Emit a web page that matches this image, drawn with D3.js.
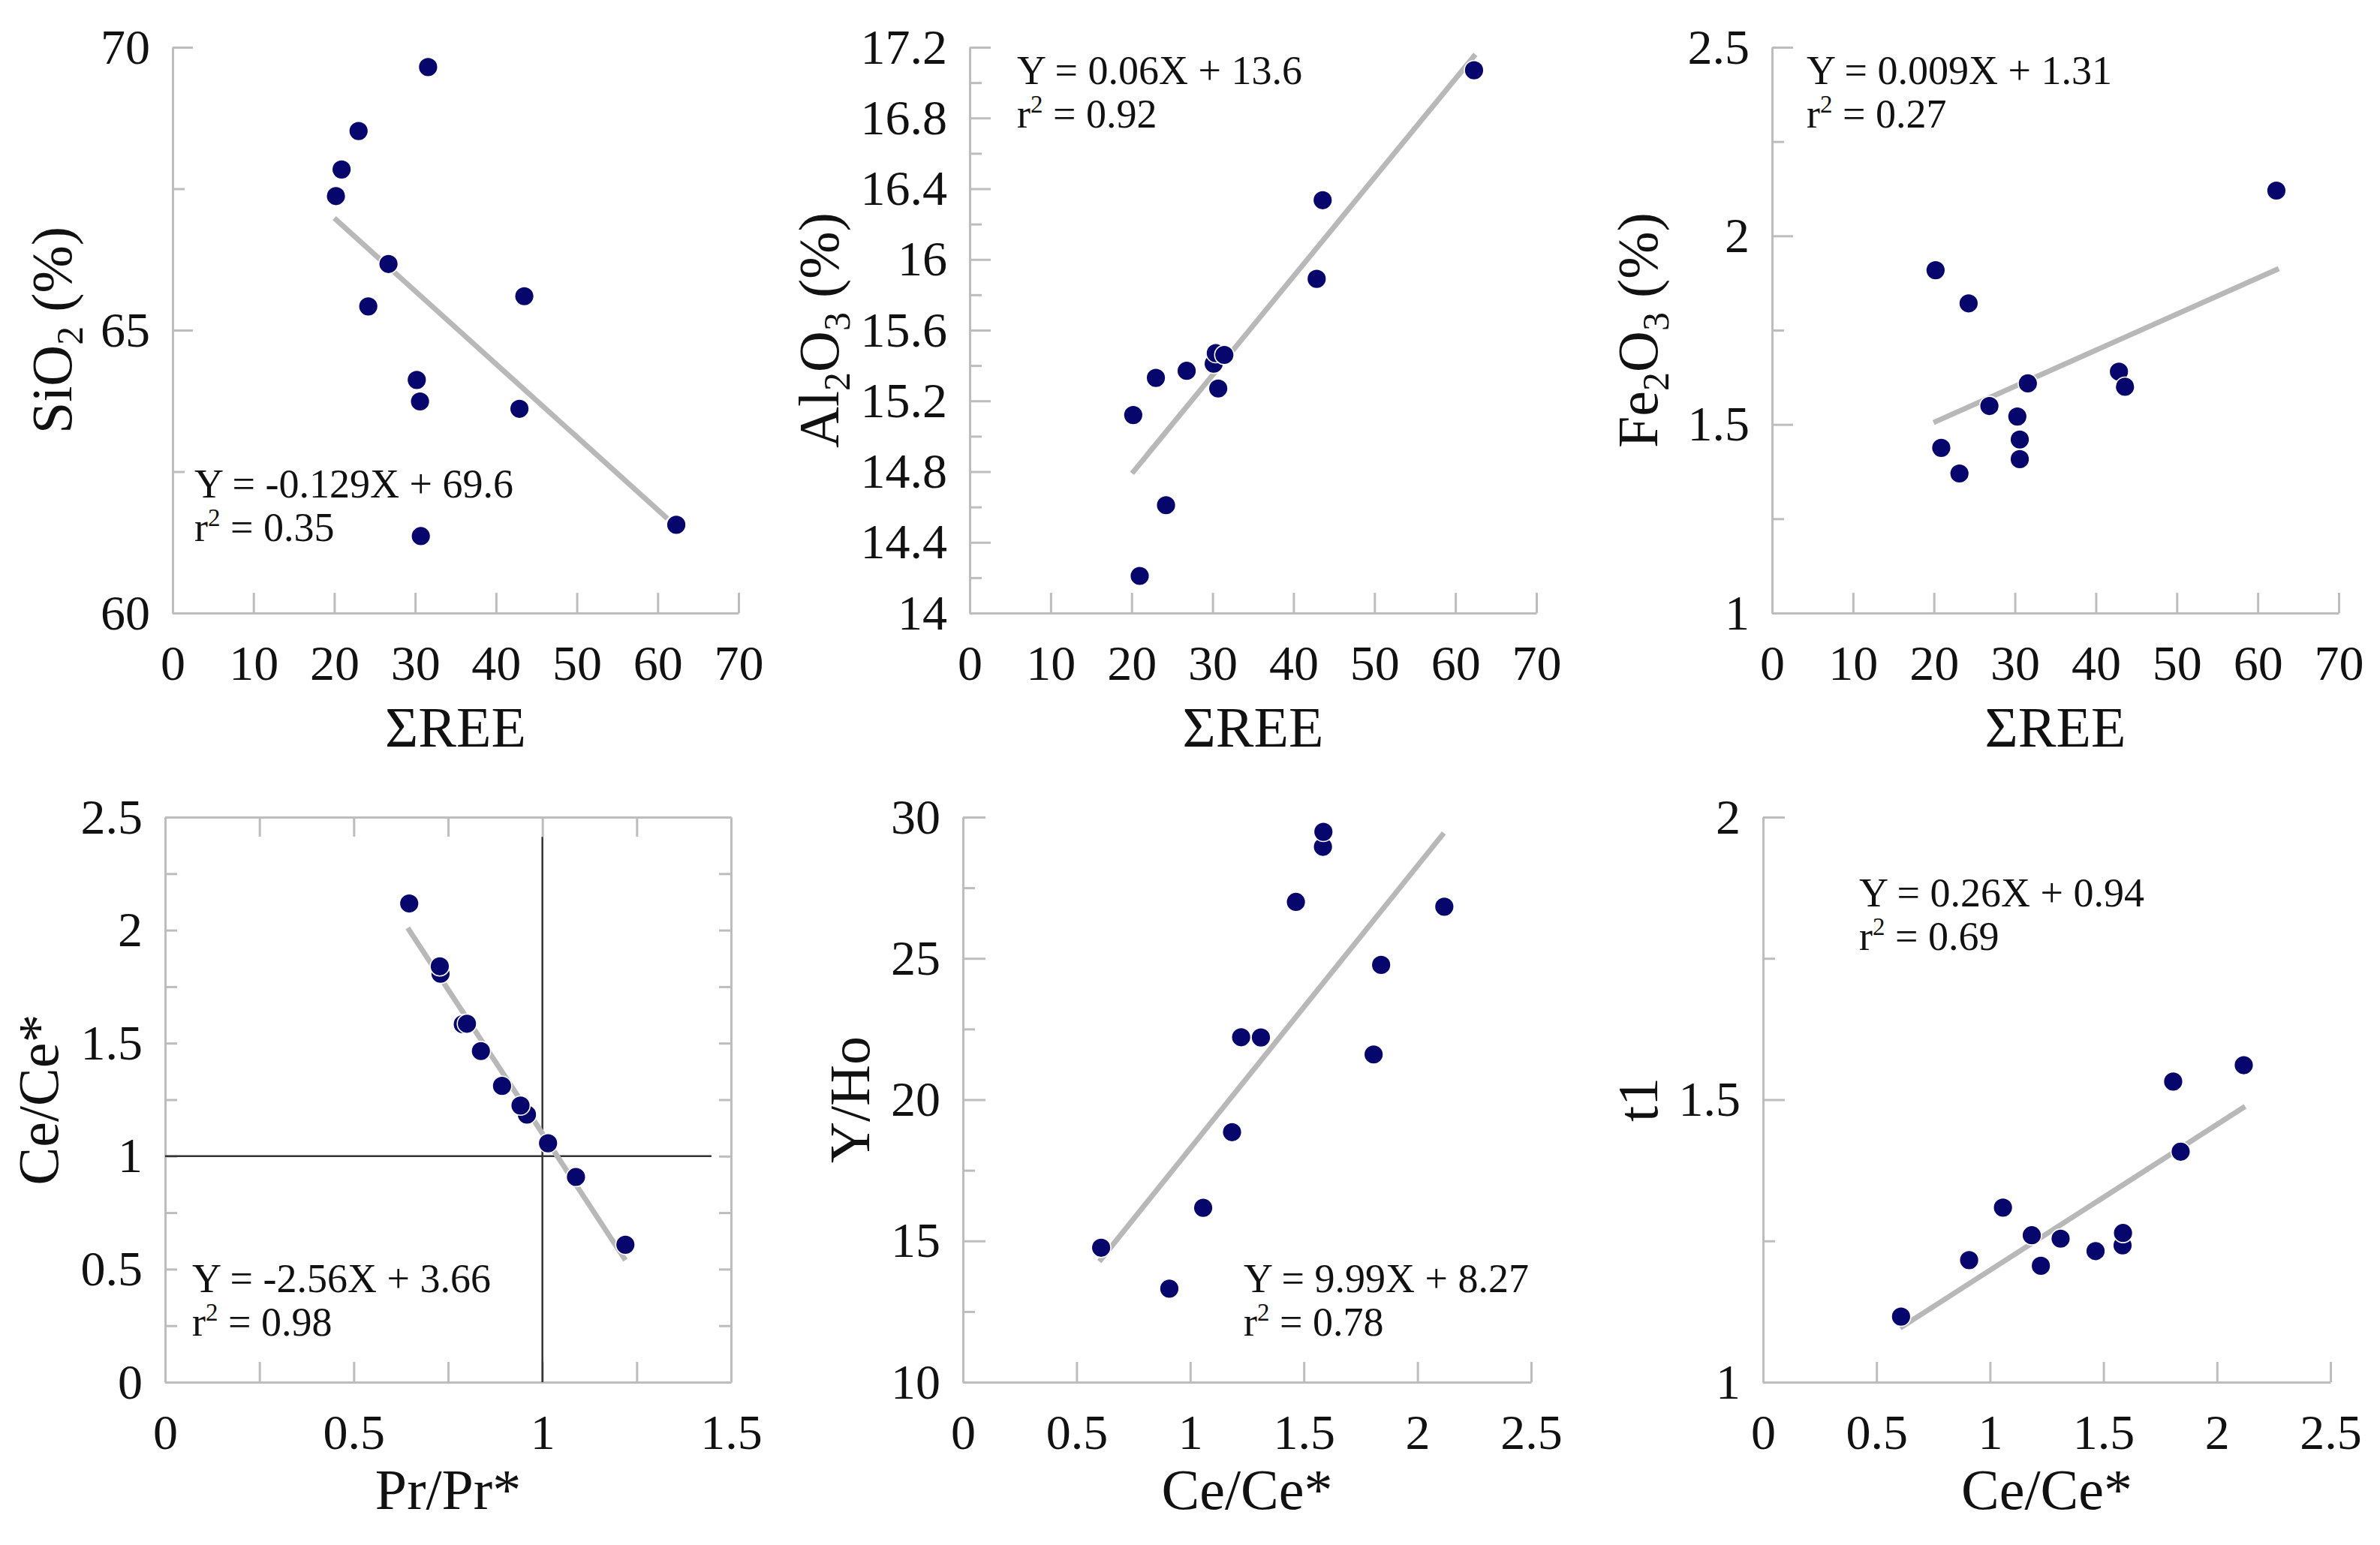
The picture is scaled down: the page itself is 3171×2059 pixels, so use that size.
<!DOCTYPE html>
<html><head><meta charset="utf-8">
<script src="https://cdn.jsdelivr.net/npm/d3@7"></script>
<style>
body{margin:0;background:#fff}
svg{display:block;background:#fff}
</style>
</head><body>
<svg id="c" width="3171" height="2059" font-family="'Liberation Serif', 'Times New Roman', 'DejaVu Serif', serif"></svg>
<script>
// ---------------- DATA ----------------
// Top row: x = ΣREE (same samples in the three panels)
const sumREE = [20.2, 20.9, 23.0, 24.2, 26.7, 30.2, 30.6, 30.7, 31.6, 42.9, 43.5, 62.3];
const sio2   = [67.37, 67.84, 68.52, 65.42, 66.17, 64.12, 63.74, 61.36, 69.65, 63.61, 65.60, 61.56];
const reeAl  = [20.2, 21.0, 23.0, 24.25, 26.8, 30.14, 30.4, 30.7, 31.45, 42.86, 43.6, 62.3];
const al2o3  = [15.12, 14.21, 15.33, 14.61, 15.37, 15.41, 15.47, 15.27, 15.46, 15.89, 16.335, 17.07];
const reeFe  = [20.2, 20.9, 23.15, 24.28, 26.85, 30.3, 30.6, 30.6, 31.6, 42.85, 43.6, 62.3];
const fe2o3  = [1.909, 1.438, 1.370, 1.821, 1.549, 1.521, 1.460, 1.408, 1.609, 1.640, 1.600, 2.120];

// Bottom row
const prPr   = [1.220, 1.089, 1.015, 0.959, 0.942, 0.893, 0.837, 0.789, 0.800, 0.730, 0.728, 0.647];
const ceCe   = [0.608, 0.908, 1.057, 1.184, 1.224, 1.311, 1.465, 1.584, 1.586, 1.807, 1.840, 2.118];
const yHo    = [14.76, 13.31, 16.17, 18.85, 22.21, 22.20, 27.00, 28.95, 29.48, 21.60, 24.77, 26.83];
const t1     = [1.116, 1.216, 1.309, 1.260, 1.206, 1.254, 1.232, 1.242, 1.264, 1.532, 1.408, 1.561];

// Regression lines drawn in the figure (start and end points, data units)
const fitSiO2  = [[20.0, 66.98], [61.2, 61.67]];
const fitAl2O3 = [[20.05, 14.79], [62.47, 17.16]];
const fitFe2O3 = [[19.95, 1.505], [62.6, 1.913]];
const fitCePr  = [[0.643, 2.01], [1.22, 0.54]];
const fitYHo   = [[0.60, 14.27], [2.116, 29.44]];
const fitT1    = [[0.604, 1.096], [2.124, 1.488]];

// Equations
const equations = ["Y = -0.129X + 69.6", "Y = 0.06X + 13.6", "Y = 0.009X + 1.31",
                   "Y = -2.56X + 3.66", "Y = 9.99X + 8.27", "Y = 0.26X + 0.94"];
const r2values  = ["0.35", "0.92", "0.27", "0.98", "0.78", "0.69"];

// Axis titles (segments starting with "_" are subscripts)
const xTitles = ["ΣREE", "ΣREE", "ΣREE", "Pr/Pr*", "Ce/Ce*", "Ce/Ce*"];
const yTitles = [["SiO", "_2", " (%)"], ["Al", "_2", "O", "_3", " (%)"], ["Fe", "_2", "O", "_3", " (%)"],
                 ["Ce/Ce*"], ["Y/Ho"], ["t1"]];

// Ticks
const reeTicks   = [0, 10, 20, 30, 40, 50, 60, 70];
const prTicks    = [0.25, 0.5, 0.75, 1, 1.25, 1.5];
const prLabels   = [0, 0.5, 1, 1.5];
const ceTicks    = [0, 0.5, 1, 1.5, 2, 2.5];
const sio2Major  = [60, 65, 70];
const sio2Minor  = [62.5, 67.5];
const al2o3Major = [14, 14.4, 14.8, 15.2, 15.6, 16, 16.4, 16.8, 17.2];
const al2o3Minor = [14.2, 14.6, 15.0, 15.4, 15.8, 16.2, 16.6, 17.0];
const fe2o3Major = [1, 1.5, 2, 2.5];
const fe2o3Minor = [1.25, 1.75, 2.25];
const ceMajor    = [0, 0.5, 1, 1.5, 2, 2.5];
const ceMinor    = [0.25, 0.75, 1.25, 1.75, 2.25];
const yHoMajor   = [10, 15, 20, 25, 30];
const yHoMinor   = [12.5, 17.5, 22.5, 27.5];
const t1Major    = [1, 1.5, 2];
const t1Minor    = [1.25, 1.75];

// ---------------- LAYOUT ----------------
const panels = [
  {L:230,  R:984,  T:63,   B:817,  xd:[0,70],  yd:[60,70],   xs:sumREE, ys:sio2,  fit:fitSiO2,
   xT:reeTicks, xL:reeTicks, yM:sio2Major, ym:sio2Minor, eq:[259,663], yOff:135, xtb:178, majLen:27},
  {L:1292, R:2047, T:63,   B:817,  xd:[0,70],  yd:[14,17.2], xs:reeAl,  ys:al2o3, fit:fitAl2O3,
   xT:reeTicks, xL:reeTicks, yM:al2o3Major, ym:al2o3Minor, eq:[1355,112], yOff:175, xtb:178, majLen:28},
  {L:2361, R:3116, T:63,   B:817,  xd:[0,70],  yd:[1,2.5],   xs:reeFe,  ys:fe2o3, fit:fitFe2O3,
   xT:reeTicks, xL:reeTicks, yM:fe2o3Major, ym:fe2o3Minor, eq:[2407,112], yOff:153, xtb:178, majLen:28},
  {L:220,  R:974,  T:1089, B:1842, xd:[0,1.5], yd:[0,2.5],   xs:prPr,   ys:ceCe,  fit:fitCePr,
   xT:prTicks, xL:prLabels, yM:ceMajor, ym:ceMinor, eq:[256,1722], yOff:143, xtb:169, majLen:16, box:true},
  {L:1283, R:2040, T:1089, B:1842, xd:[0,2.5], yd:[10,30],   xs:ceCe,   ys:yHo,   fit:fitYHo,
   xT:ceTicks, xL:ceTicks, yM:yHoMajor, ym:yHoMinor, eq:[1657,1722], yOff:125, xtb:169, majLen:30},
  {L:2349, R:3105, T:1089, B:1842, xd:[0,2.5], yd:[1,2],     xs:ceCe,   ys:t1,    fit:fitT1,
   xT:ceTicks, xL:ceTicks, yM:t1Major, ym:t1Minor, eq:[2477,1208], yOff:141, xtb:169, majLen:29}
];

const AXIS = "#bdbdbd", DOT = "#06066c", FIT = "#b8b8b8", INK = "#111";
const FONT = "'Liberation Serif', 'Times New Roman', 'DejaVu Serif', serif";
const TICKFS = 66, TITLEFS = 76, EQFS = 54;
const fmt = v => String(+v.toFixed(2));

const svg = d3.select("#c");

function styleAxis(g) {
  g.attr("font-size", TICKFS).attr("font-family", FONT);
  g.selectAll("path.domain").attr("stroke", AXIS).attr("stroke-width", 3);
  g.selectAll(".tick line").attr("stroke", AXIS).attr("stroke-width", 3);
  g.selectAll(".tick text").attr("font-size", TICKFS).attr("font-family", FONT).attr("fill", INK);
}

panels.forEach((p, i) => {
  const g = svg.append("g");
  const x = d3.scaleLinear().domain(p.xd).range([p.L, p.R]);
  const y = d3.scaleLinear().domain(p.yd).range([p.B, p.T]);

  // y minor ticks
  g.append("g").attr("transform", `translate(${p.L},0)`)
    .call(d3.axisLeft(y).tickValues(p.ym).tickSizeInner(-16).tickSizeOuter(0).tickFormat(""))
    .call(styleAxis);
  // y major ticks with labels
  g.append("g").attr("transform", `translate(${p.L},0)`)
    .call(d3.axisLeft(y).tickValues(p.yM).tickSizeInner(-p.majLen).tickSizeOuter(0).tickPadding(30).tickFormat(fmt))
    .call(styleAxis);
  // x ticks
  g.append("g").attr("transform", `translate(0,${p.B})`)
    .call(d3.axisBottom(x).tickValues(p.xT).tickSizeInner(-27).tickSizeOuter(0).tickFormat(""))
    .call(styleAxis);
  // x labels
  g.append("g").attr("transform", `translate(0,${p.B})`)
    .call(d3.axisBottom(x).tickValues(p.xL).tickSizeInner(0).tickSizeOuter(0).tickPadding(42).tickFormat(fmt))
    .call(styleAxis)
    .call(a => a.select("path.domain").remove());

  if (p.box) {
    g.append("g").attr("transform", `translate(0,${p.T})`)
      .call(d3.axisTop(x).tickValues(p.xT.filter(v => v < p.xd[1])).tickSizeInner(-26).tickSizeOuter(0).tickFormat(""))
      .call(styleAxis);
    g.append("g").attr("transform", `translate(${p.R},0)`)
      .call(d3.axisRight(y).tickValues(p.yM.concat(p.ym).filter(v => v > p.yd[0] && v < p.yd[1])).tickSizeInner(-16).tickSizeOuter(0).tickFormat(""))
      .call(styleAxis);
    // reference lines at Pr/Pr* = 1 and Ce/Ce* = 1
    g.append("line").attr("x1", x(1)).attr("x2", x(1)).attr("y1", y(2.413)).attr("y2", y(0))
      .attr("stroke", "#333").attr("stroke-width", 2.5);
    g.append("line").attr("x1", x(0)).attr("x2", x(1.448)).attr("y1", y(1)).attr("y2", y(1))
      .attr("stroke", "#333").attr("stroke-width", 2.5);
  }

  // regression line
  g.append("line")
    .attr("x1", x(p.fit[0][0])).attr("y1", y(p.fit[0][1]))
    .attr("x2", x(p.fit[1][0])).attr("y2", y(p.fit[1][1]))
    .attr("stroke", FIT).attr("stroke-width", 7);

  // points
  const pts = p.xs.map((v, k) => [v, p.ys[k]]);
  g.selectAll("circle.pt").data(pts).join("circle")
    .attr("class", "pt")
    .attr("cx", d => x(d[0])).attr("cy", d => y(d[1]))
    .attr("r", 12.9)
    .attr("fill", DOT).attr("stroke", "#fff").attr("stroke-width", 1.6);

  // equation
  g.append("text").attr("x", p.eq[0]).attr("y", p.eq[1]).attr("font-size", EQFS)
    .attr("font-family", FONT).attr("fill", INK).text(equations[i]);
  const r2 = g.append("text").attr("x", p.eq[0]).attr("y", p.eq[1] + 58).attr("font-size", EQFS)
    .attr("font-family", FONT).attr("fill", INK);
  r2.append("tspan").text("r");
  r2.append("tspan").attr("font-size", 33).attr("dy", -20).text("2");
  r2.append("tspan").attr("dy", 20).text(" = " + r2values[i]);

  // x title
  g.append("text").attr("x", (p.L + p.R) / 2).attr("y", p.B + p.xtb)
    .attr("text-anchor", "middle").attr("font-size", TITLEFS)
    .attr("font-family", FONT).attr("fill", INK).text(xTitles[i]);

  // y title
  const yt = g.append("text")
    .attr("transform", `translate(${p.L - p.yOff},${(p.T + p.B) / 2}) rotate(-90)`)
    .attr("text-anchor", "middle").attr("font-size", TITLEFS)
    .attr("font-family", FONT).attr("fill", INK);
  let shifted = false;
  yTitles[i].forEach(seg => {
    if (seg.startsWith("_")) {
      yt.append("tspan").attr("font-size", 50).attr("dy", 15).text(seg.slice(1));
      shifted = true;
    } else {
      const ts = yt.append("tspan").text(seg);
      if (shifted) { ts.attr("dy", -15); shifted = false; }
    }
  });
});
</script>
</body></html>
